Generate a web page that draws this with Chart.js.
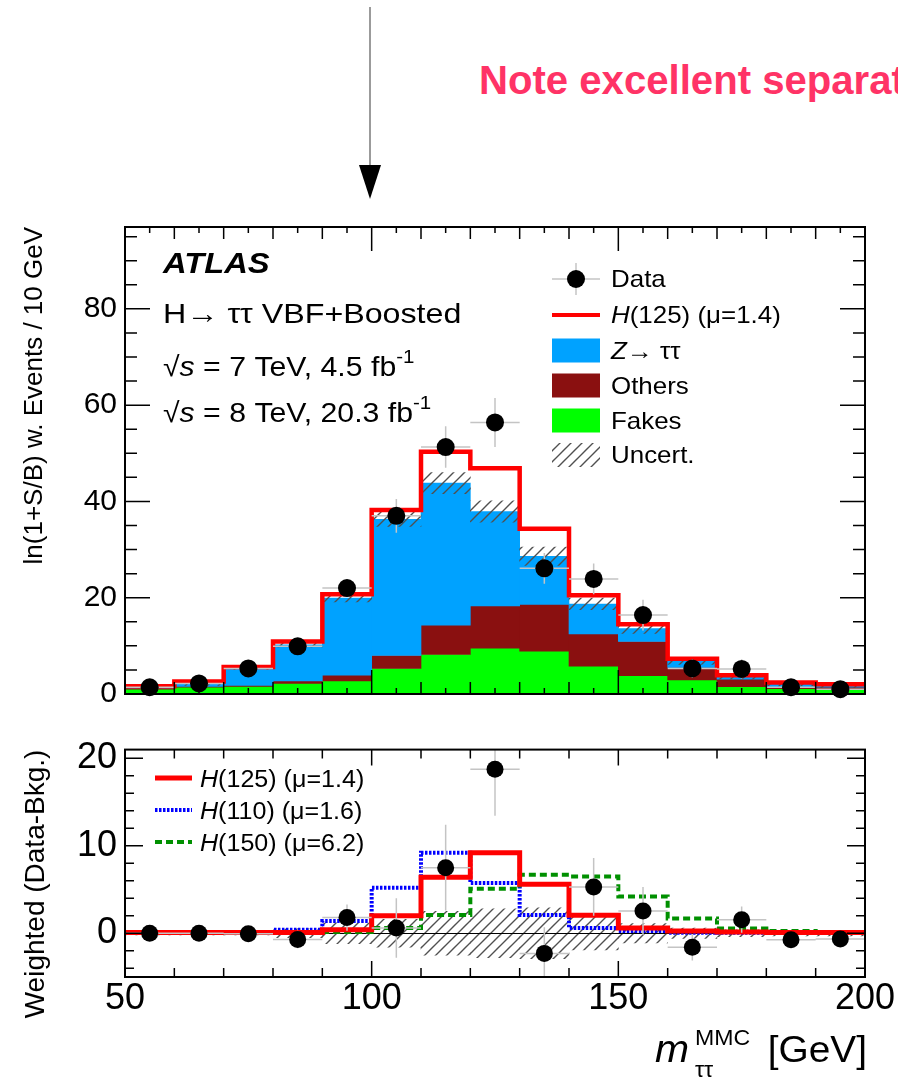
<!DOCTYPE html>
<html>
<head>
<meta charset="utf-8">
<title>ATLAS H→ττ VBF+Boosted mass distribution</title>
<script src="https://cdn.jsdelivr.net/npm/chart.js@4.4.1/dist/chart.umd.min.js"></script>
<style>
  html, body { margin: 0; padding: 0; background: #fff; }
  body { width: 898px; height: 1084px; overflow: hidden; position: relative; font-family: "Liberation Sans", Arial, sans-serif; }
  #note { position: absolute; left: 0; top: 0; }
  #top { position: absolute; left: 0; top: 200px; width: 898px; height: 520px; }
  #bottom { position: absolute; left: 0; top: 720px; width: 898px; height: 364px; }
</style>
</head>
<body>
<svg id="note" width="898" height="200">
  <line x1="370" y1="7" x2="370" y2="168" stroke="#7a7a7a" stroke-width="1.5"/>
  <polygon points="359,165 381,165 370,199" fill="#000"/>
  <text x="479" y="94" font-family="Liberation Sans Narrow, Liberation Sans, Arial" font-weight="bold" font-size="40" fill="#ff3366" textLength="486" lengthAdjust="spacingAndGlyphs">Note excellent separation</text>
</svg>
<canvas id="top" width="898" height="520"></canvas>
<canvas id="bottom" width="898" height="364"></canvas>
<script>
// bins of m_tautau (GeV), 10 GeV wide
const binCenters = [55, 65, 75, 85, 95, 105, 115, 125, 135, 145, 155, 165, 175, 185, 195];
const binWidth = 10;
const massTicks = [50, 100, 150, 200];
const topYTicks = [0, 20, 40, 60, 80];
const diffYTicks = [0, 10, 20];

// upper panel: ln(1+S/B) weighted events
const fakes    = [1.0, 1.4, 1.6, 2.2, 2.7, 5.3, 8.2, 9.5, 8.9, 5.8, 3.8, 2.9, 1.5, 1.1, 0.9];
const others   = [0.2, 0.2, 0.2, 0.5, 1.2, 2.7, 6.1, 8.8, 9.7, 6.7, 7.1, 2.6, 1.6, 0.4, 0.5];
const ztautau  = [0.1, 0.4, 3.6, 7.5, 16.0, 28.3, 29.5, 19.6, 10.0, 6.2, 2.7, 1.35, 0.4, 0.5, 0.2];
const bkgUnc   = [0.15, 0.2, 0.3, 0.4, 0.8, 1.5, 2.2, 2.2, 1.9, 1.2, 1.0, 0.7, 0.4, 0.3, 0.3];
const h125Stack = [1.6, 2.6, 5.6, 10.9, 20.7, 38.2, 50.3, 46.9, 34.3, 20.5, 14.5, 7.3, 3.9, 2.4, 2.0];
const dataTop    = [1.4, 2.2, 5.3, 9.9, 22.0, 37.0, 51.3, 56.4, 26.1, 23.9, 16.4, 5.3, 5.2, 1.4, 1.0];
const dataTopErr = [0.5, 0.6, 1.0, 1.2, 1.6, 3.5, 4.3, 5.1, 3.2, 3.2, 3.2, 1.9, 2.0, 0.8, 0.8];

// lower panel: weighted (data - background)
const dataDiff    = [0.0, 0.0, -0.05, -0.7, 1.8, 0.6, 7.5, 18.75, -2.3, 5.3, 2.55, -1.6, 1.55, -0.75, -0.65];
const dataDiffErr = [0.3, 0.3, 0.3, 1.0, 1.5, 3.4, 4.9, 5.3, 3.0, 3.3, 2.75, 1.5, 1.5, 0.4, 0.4];
const diffUnc     = [0.2, 0.2, 0.2, 0.5, 1.2, 1.6, 2.5, 2.8, 2.9, 1.9, 1.1, 0.6, 0.4, 0.3, 0.3];
const h125 = [0.1, 0.1, 0.1, 0.1, 0.4, 2.0, 6.4, 9.2, 5.6, 2.05, 0.6, 0.26, 0.15, 0.1, 0.1];
const h110 = [0.05, 0.05, 0.05, 0.4, 1.4, 5.2, 9.2, 5.75, 2.1, 0.6, 0.26, 0.07, 0.05, 0.05, 0.05];
const h150 = [0.05, 0.05, 0.05, 0.1, 0.15, 0.6, 2.1, 5.1, 6.7, 6.5, 4.2, 1.7, 0.55, 0.26, 0.15];

const FONT = '"Liberation Sans", Arial, sans-serif';
Chart.defaults.font.family = FONT;
Chart.defaults.color = '#000';

const RED = '#ff0000', ZBLUE = '#00a2ff', DARKRED = '#8a1010', FAKEGREEN = '#00ff00';
const BLUE = '#0000ff', GREEN = '#009000', ERRGREY = '#c4c4c4';

// grey diagonal hatch for the uncertainty bands
const hatch = (() => {
  const c = document.createElement('canvas');
  c.width = 11; c.height = 11;
  const g = c.getContext('2d');
  g.strokeStyle = '#505050';
  g.lineWidth = 1.4;
  g.beginPath();
  g.moveTo(-1, 12); g.lineTo(12, -1);
  g.moveTo(-1, 1); g.lineTo(1, -1);
  g.moveTo(10, 12); g.lineTo(12, 10);
  g.stroke();
  return g.createPattern(c, 'repeat');
})();

const sum = (...arrs) => binCenters.map((_, i) => arrs.reduce((s, a) => s + a[i], 0));
const band = (lo, hi) => binCenters.map((x, i) => ({ x, y: [lo[i], hi[i]] }));
const points = vals => binCenters.map((x, i) => ({ x, y: vals[i] }));
const steps = vals => binCenters.map((x, i) => ({ x: x - binWidth / 2, y: vals[i] }))
  .concat([{ x: binCenters[binCenters.length - 1] + binWidth / 2, y: vals[vals.length - 1] }]);

function drawText(ctx, x, y, parts, sx, align) {
  ctx.save();
  ctx.translate(x, y);
  ctx.scale(sx || 1, 1);
  ctx.textBaseline = 'alphabetic';
  ctx.textAlign = 'left';
  ctx.fillStyle = '#000';
  let cx = 0;
  if (align === 'right') {
    let w = 0;
    for (const p of parts) { ctx.font = p.f + ' ' + FONT; w += ctx.measureText(p.t).width; }
    cx = -w;
  }
  for (const p of parts) {
    ctx.font = p.f + ' ' + FONT;
    ctx.fillText(p.t, cx, p.dy || 0);
    cx += ctx.measureText(p.t).width;
  }
  ctx.restore();
}

function tickLen(v, specs) {
  let len = 0;
  for (const s of specs) {
    if (Math.abs(v / s.step - Math.round(v / s.step)) < 1e-6) len = Math.max(len, s.len);
  }
  return len;
}

// frame, inward ticks on all sides, error bars, zero line and text
function decor(cfg) {
  return {
    id: 'decor',
    beforeDatasetDraw(chart, args) {
      const ds = chart.data.datasets[args.index];
      if (!ds.errY) return;
      const { ctx, chartArea: a, scales: { x, y } } = chart;
      ctx.save();
      ctx.beginPath();
      ctx.rect(a.left, a.top, a.width, a.height);
      ctx.clip();
      ctx.strokeStyle = ERRGREY;
      ctx.lineWidth = 1.5;
      ctx.beginPath();
      ds.data.forEach((p, i) => {
        const px = x.getPixelForValue(p.x), py = y.getPixelForValue(p.y);
        ctx.moveTo(x.getPixelForValue(p.x - binWidth / 2), py);
        ctx.lineTo(x.getPixelForValue(p.x + binWidth / 2), py);
        ctx.moveTo(px, y.getPixelForValue(p.y - ds.errY[i]));
        ctx.lineTo(px, y.getPixelForValue(p.y + ds.errY[i]));
      });
      ctx.stroke();
      ctx.restore();
    },
    afterDatasetDraw(chart, args) {
      const ds = chart.data.datasets[args.index];
      if (!ds.zeroLine) return;
      const { ctx, chartArea: a, scales: { y } } = chart;
      const py = Math.round(y.getPixelForValue(0)) + 0.5;
      ctx.save();
      ctx.strokeStyle = '#000';
      ctx.lineWidth = 1;
      ctx.beginPath();
      ctx.moveTo(a.left, py);
      ctx.lineTo(a.right, py);
      ctx.stroke();
      ctx.restore();
    },
    afterDraw(chart) {
      const { ctx, chartArea: a, scales: { x, y } } = chart;
      ctx.save();
      ctx.strokeStyle = '#000';
      ctx.lineWidth = 1.5;
      ctx.beginPath();
      const xs = cfg.xTicks, x0 = xs[0].step;
      for (let v = Math.ceil(x.min / x0) * x0; v < x.max - 1e-6; v += x0) {
        if (v <= x.min + 1e-6) continue;
        const px = x.getPixelForValue(v), l = tickLen(v, xs);
        ctx.moveTo(px, a.bottom); ctx.lineTo(px, a.bottom - l);
        ctx.moveTo(px, a.top); ctx.lineTo(px, a.top + l);
      }
      const ys = cfg.yTicks, y0 = ys[0].step;
      for (let v = Math.ceil(y.min / y0) * y0; v < y.max - 1e-6; v += y0) {
        if (v <= y.min + 1e-6) continue;
        const py = y.getPixelForValue(v), l = tickLen(v, ys);
        ctx.moveTo(a.left, py); ctx.lineTo(a.left + l, py);
        ctx.moveTo(a.right, py); ctx.lineTo(a.right - l, py);
      }
      ctx.stroke();
      ctx.lineWidth = 2;
      ctx.strokeRect(a.left, a.top, a.width, a.height);
      ctx.restore();
      cfg.text(ctx, chart);
    }
  };
}

function legendLine(ctx, x1, x2, y, color, width, dash) {
  ctx.save();
  ctx.strokeStyle = color;
  ctx.lineWidth = width;
  ctx.setLineDash(dash || []);
  ctx.beginPath();
  ctx.moveTo(x1, y);
  ctx.lineTo(x2, y);
  ctx.stroke();
  ctx.restore();
}

const barDefaults = { grouped: false, categoryPercentage: 1, barPercentage: 1, borderWidth: 0 };
const lineStyle = { type: 'line', stepped: 'before', pointRadius: 0, fill: false, tension: 0, borderJoinStyle: 'miter', borderCapStyle: 'butt' };

// ---------- upper panel ----------
const cumFakes = fakes;
const cumOthers = sum(fakes, others);
const cumTotal = sum(fakes, others, ztautau);

new Chart(document.getElementById('top'), {
  type: 'bar',
  data: {
    datasets: [
      { type: 'line', label: 'Data', data: points(dataTop), errY: dataTopErr, showLine: false,
        pointRadius: 9, pointHoverRadius: 9, pointBackgroundColor: '#000', pointBorderWidth: 0, clip: false, order: 0 },
      { ...lineStyle, label: 'H(125) (μ=1.4)', data: steps(h125Stack), borderColor: RED, borderWidth: 4.5, order: 1 },
      { label: 'Uncert.', data: band(cumTotal.map((v, i) => v - bkgUnc[i]), cumTotal.map((v, i) => v + bkgUnc[i])),
        backgroundColor: hatch, order: 2 },
      { label: 'Z→ττ', data: band(cumOthers, cumTotal), backgroundColor: ZBLUE, order: 3 },
      { label: 'Others', data: band(cumFakes, cumOthers), backgroundColor: DARKRED, order: 4 },
      { label: 'Fakes', data: band(binCenters.map(() => 0), cumFakes), backgroundColor: FAKEGREEN, order: 5 }
    ]
  },
  options: {
    responsive: false,
    animation: false,
    devicePixelRatio: 1,
    layout: { padding: { left: 0, right: 33, top: 27, bottom: 20 } },
    datasets: { bar: barDefaults },
    plugins: { legend: { display: false }, tooltip: { enabled: false } },
    scales: {
      x: { type: 'linear', min: 50, max: 200, offset: false, display: false },
      y: {
        type: 'linear', min: 0, max: 97,
        border: { display: false },
        grid: { display: false, drawTicks: false },
        afterBuildTicks: s => { s.ticks = topYTicks.map(value => ({ value })); },
        afterFit: s => { s.width = 125; },
        ticks: { font: { size: 30 }, color: '#000', padding: 8 },
        title: { display: true, text: 'ln(1+S/B) w. Events / 10 GeV', align: 'end', color: '#000',
                 font: { size: 26 }, padding: { top: 19, bottom: 0 } }
      }
    }
  },
  plugins: [decor({
    xTicks: [{ step: 5, len: 6 }, { step: 10, len: 12 }, { step: 50, len: 24 }],
    yTicks: [{ step: 5, len: 12 }, { step: 20, len: 25 }],
    text(ctx) {
      drawText(ctx, 163, 73, [{ t: 'ATLAS', f: 'italic bold 30px' }], 1.09);
      drawText(ctx, 163, 123, [{ t: 'H→ ττ VBF+Boosted', f: '28px' }], 1.15);
      drawText(ctx, 163, 176, [{ t: '√', f: '28px' }, { t: 's', f: 'italic 28px' },
        { t: ' = 7 TeV, 4.5 fb', f: '28px' }, { t: '-1', f: '19px', dy: -13 }], 1.08);
      drawText(ctx, 163, 222, [{ t: '√', f: '28px' }, { t: 's', f: 'italic 28px' },
        { t: ' = 8 TeV, 20.3 fb', f: '28px' }, { t: '-1', f: '19px', dy: -13 }], 1.08);

      const lx = 552, lw = 48, tx = 611, sx = 1.08, fs = '24px';
      const rows = [79, 115, 150.5, 185.5, 220.5, 255];
      // Data
      legendLine(ctx, lx, lx + lw, rows[0], ERRGREY, 1.5);
      ctx.save();
      ctx.strokeStyle = ERRGREY; ctx.lineWidth = 1.5;
      ctx.beginPath(); ctx.moveTo(lx + lw / 2, rows[0] - 16); ctx.lineTo(lx + lw / 2, rows[0] + 16); ctx.stroke();
      ctx.fillStyle = '#000';
      ctx.beginPath(); ctx.arc(lx + lw / 2, rows[0], 9, 0, Math.PI * 2); ctx.fill();
      ctx.restore();
      drawText(ctx, tx, rows[0] + 8, [{ t: 'Data', f: fs }], sx);
      // H(125)
      legendLine(ctx, lx, lx + lw, rows[1], RED, 4);
      drawText(ctx, tx, rows[1] + 8, [{ t: 'H', f: 'italic ' + fs }, { t: '(125) (μ=1.4)', f: fs }], sx);
      // filled boxes
      const boxes = [[ZBLUE, [{ t: 'Z', f: 'italic ' + fs }, { t: '→ ττ', f: fs }]],
                     [DARKRED, [{ t: 'Others', f: fs }]],
                     [FAKEGREEN, [{ t: 'Fakes', f: fs }]],
                     [hatch, [{ t: 'Uncert.', f: fs }]]];
      boxes.forEach(([fill, label], k) => {
        const cy = rows[k + 2];
        ctx.save();
        ctx.fillStyle = fill;
        ctx.fillRect(lx, cy - 12, lw, 24);
        ctx.restore();
        drawText(ctx, tx, cy + 8, label, sx);
      });
    }
  })]
});

// ---------- lower panel ----------
new Chart(document.getElementById('bottom'), {
  type: 'bar',
  data: {
    datasets: [
      { type: 'line', label: 'Data-Bkg.', data: points(dataDiff), errY: dataDiffErr, showLine: false,
        pointRadius: 8.5, pointHoverRadius: 8.5, pointBackgroundColor: '#000', pointBorderWidth: 0, clip: false, order: 0 },
      { ...lineStyle, label: 'H(125) (μ=1.4)', data: steps(h125), borderColor: RED, borderWidth: 5, order: 1 },
      { ...lineStyle, label: 'H(150) (μ=6.2)', data: steps(h150), borderColor: GREEN, borderWidth: 4, borderDash: [7, 4], order: 2 },
      { ...lineStyle, label: 'H(110) (μ=1.6)', data: steps(h110), borderColor: BLUE, borderWidth: 4, borderDash: [2.5, 1.5], order: 3 },
      { label: 'Uncert.', data: band(diffUnc.map(u => -u), diffUnc), backgroundColor: hatch, zeroLine: true, order: 4 }
    ]
  },
  options: {
    responsive: false,
    animation: false,
    devicePixelRatio: 1,
    layout: { padding: { left: 0, right: 33, top: 21, bottom: 0 } },
    datasets: { bar: barDefaults },
    plugins: { legend: { display: false }, tooltip: { enabled: false } },
    scales: {
      x: {
        type: 'linear', min: 50, max: 200, offset: false,
        border: { display: false },
        grid: { display: false, drawTicks: false },
        afterBuildTicks: s => { s.ticks = massTicks.map(value => ({ value })); },
        afterFit: s => { s.height = 107; },
        ticks: { font: { size: 36 }, color: '#000', padding: 0, maxRotation: 0, autoSkip: false }
      },
      y: {
        type: 'linear', min: -5, max: 21,
        border: { display: false },
        grid: { display: false, drawTicks: false },
        afterBuildTicks: s => { s.ticks = diffYTicks.map(value => ({ value })); },
        afterFit: s => { s.width = 125; },
        ticks: { font: { size: 36 }, color: '#000', padding: 8 },
        title: { display: true, text: 'Weighted (Data-Bkg.)', align: 'end', color: '#000',
                 font: { size: 28 }, padding: { top: 19, bottom: 0 } }
      }
    }
  },
  plugins: [decor({
    xTicks: [{ step: 10, len: 9 }, { step: 50, len: 16 }],
    yTicks: [{ step: 2, len: 9 }, { step: 10, len: 18 }],
    text(ctx) {
      const lx = 155, lw = 37, tx = 200, sx = 1.09, fs = '23px';
      const rows = [58, 90, 122];
      legendLine(ctx, lx, lx + lw, rows[0], RED, 5);
      drawText(ctx, tx, rows[0] + 8.5, [{ t: 'H', f: 'italic ' + fs }, { t: '(125) (μ=1.4)', f: fs }], sx);
      legendLine(ctx, lx, lx + lw, rows[1], BLUE, 4, [2.5, 1.5]);
      drawText(ctx, tx, rows[1] + 8.5, [{ t: 'H', f: 'italic ' + fs }, { t: '(110) (μ=1.6)', f: fs }], sx);
      legendLine(ctx, lx, lx + lw, rows[2], GREEN, 4, [7, 4]);
      drawText(ctx, tx, rows[2] + 8.5, [{ t: 'H', f: 'italic ' + fs }, { t: '(150) (μ=6.2)', f: fs }], sx);

      // x-axis title
      drawText(ctx, 655, 342, [{ t: 'm', f: 'italic 39px' }], 1.05);
      drawText(ctx, 695, 325, [{ t: 'MMC', f: '22px' }], 1.05);
      drawText(ctx, 695, 357, [{ t: 'ττ', f: '22px' }], 1.05);
      drawText(ctx, 867, 342, [{ t: '[GeV]', f: '37px' }], 1.05, 'right');
    }
  })]
});
</script>
</body>
</html>
